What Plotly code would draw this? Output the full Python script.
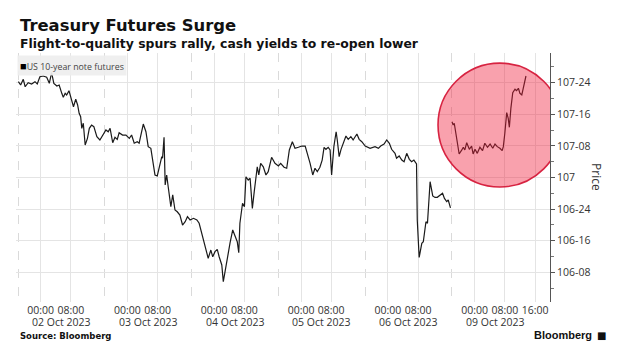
import plotly.graph_objects as go

# ---- data: trading hours since session open (Sun 18:00 ET), price in points ----
hours = [0.1, 0.7, 1.4, 1.9, 2.7, 3.6, 4.5, 5.1, 5.8, 6.7, 7.6, 8.3, 8.9, 9.5, 10.3, 10.9,
         11.6, 12.0, 12.5, 12.9, 13.5, 14.0, 14.7, 15.3, 15.8, 16.2, 16.6, 16.9, 17.3, 17.8,
         18.4, 18.9, 19.5, 20.1, 20.9, 21.7, 22.6, 23.3, 23.9, 24.4, 25.1, 25.7, 26.3, 26.8,
         27.7, 28.6, 29.5, 30.1, 30.8, 31.6, 32.1, 32.8, 33.2, 33.9, 34.5, 35.2, 35.7, 36.3,
         36.9, 37.4, 38.1, 38.3, 38.7, 39.0, 39.4, 39.8, 40.5, 41.0, 41.6, 42.2, 42.9, 43.6,
         44.3, 44.9, 45.6, 46.5, 47.4, 48.0, 48.7, 49.3, 50.0, 50.4, 51.1, 51.6, 52.2, 52.8,
         53.3, 54.0, 54.4, 55.1, 55.7, 56.2, 56.9, 57.5, 58.1, 58.5, 58.8, 59.5, 60.0, 60.4,
         61.0, 61.5, 62.1, 62.6, 63.1, 63.4, 63.8, 64.3, 65.0, 65.7, 66.3, 67.2, 68.1, 69.0,
         69.6, 70.5, 71.2, 71.9, 72.7, 73.4, 74.3, 75.2, 76.1, 76.7, 77.4, 78.1, 78.7, 79.3,
         80.0, 80.6, 81.1, 81.6, 82.2, 82.7, 83.1, 83.7, 84.3, 84.6, 85.1, 85.6, 86.2, 86.9,
         87.5, 88.2, 88.8, 89.8, 90.4, 91.1, 92.0, 92.6, 93.3, 94.6, 95.5, 96.1, 97.0, 97.7,
         98.4, 99.0, 99.9, 100.3, 101.0, 101.7, 102.3, 103.0, 103.7, 104.3, 104.9, 105.6,
         105.8, 106.3, 107.0, 107.4, 108.1, 108.5, 109.2, 109.9, 110.5, 111.1, 111.8, 112.5,
         113.0, 113.6, 114.0, 114.6,
         None,
         115.0, 115.3, 115.6, 116.1, 116.4, 116.9, 117.6, 118.0, 118.4, 118.9, 119.6, 120.2,
         120.6, 121.1, 121.7, 122.4, 123.1, 123.7, 124.4, 125.1, 125.8, 126.4, 127.0, 127.7,
         128.3, 128.6, 129.0, 129.5, 129.9, 130.2, 130.6, 131.1, 131.7, 132.1, 132.6, 133.0,
         133.5, 133.9, 134.6]

price = [107.758, 107.732, 107.777, 107.718, 107.750, 107.740, 107.758, 107.740, 107.797,
         107.803, 107.793, 107.745, 107.829, 107.745, 107.724, 107.732, 107.666, 107.634,
         107.666, 107.653, 107.687, 107.639, 107.560, 107.619, 107.574, 107.508, 107.481,
         107.389, 107.429, 107.257, 107.310, 107.389, 107.415, 107.402, 107.323, 107.297,
         107.336, 107.376, 107.362, 107.389, 107.275, 107.318, 107.302, 107.354, 107.336,
         107.336, 107.310, 107.336, 107.271, 107.283, 107.271, 107.362, 107.423, 107.362,
         107.244, 107.231, 107.138, 107.020, 107.012, 107.085, 107.165, 107.152, 107.318,
         106.941, 107.020, 106.927, 106.769, 106.862, 106.743, 106.729, 106.703, 106.624,
         106.650, 106.690, 106.664, 106.677, 106.664, 106.638, 106.559, 106.492, 106.426,
         106.361, 106.426, 106.373, 106.413, 106.432, 106.373, 106.308, 106.176, 106.308,
         106.426, 106.484, 106.585, 106.532, 106.492, 106.405, 106.638, 106.796, 106.769,
         107.006, 106.980, 106.994, 106.756, 106.888, 107.020, 107.085, 107.020, 107.112,
         107.085, 107.020, 107.046, 107.160, 107.112, 107.091, 107.112, 107.081, 107.073,
         107.218, 107.283, 107.231, 107.239, 107.249, 107.249, 107.191, 107.112, 107.020,
         107.073, 107.046, 107.081, 107.138, 107.239, 107.223, 107.239, 107.218, 107.020,
         107.244, 107.362, 107.297, 107.165, 107.223, 107.271, 107.328, 107.302, 107.323,
         107.297, 107.344, 107.302, 107.283, 107.249, 107.239, 107.231, 107.244, 107.231,
         107.249, 107.265, 107.297, 107.271, 107.223, 107.191, 107.152, 107.170, 107.138,
         107.125, 107.191, 107.144, 107.125, 107.138, 107.107, 106.664, 106.367, 106.479,
         106.492, 106.650, 106.638, 106.967, 106.854, 106.842, 106.843, 106.862, 106.875,
         106.835, 106.809, 106.822, 106.760,
         None,
         107.441, 107.415, 107.429, 107.323, 107.297, 107.186, 107.218, 107.239, 107.218,
         107.275, 107.223, 107.249, 107.186, 107.223, 107.191, 107.239, 107.212, 107.271,
         107.239, 107.265, 107.231, 107.265, 107.244, 107.231, 107.212, 107.244, 107.350,
         107.513, 107.468, 107.397, 107.547, 107.671, 107.698, 107.687, 107.706, 107.666,
         107.653, 107.706, 107.803]

# ---- axis ticks ----
session_open = [0, 23, 46, 69, 92, 115]          # dashed day separators
tick_hours = [6, 14, 29, 37, 52, 60, 75, 83, 98, 106, 121, 129, 137]
tick_text = ["00:00", "08:00", "00:00", "08:00", "00:00", "08:00", "00:00", "08:00",
             "00:00", "08:00", "00:00", "08:00", "16:00"]
day_labels = ["02 Oct 2023", "03 Oct 2023", "04 Oct 2023", "05 Oct 2023",
              "06 Oct 2023", "09 Oct 2023"]
day_label_pos = [11.4, 34.4, 57.4, 80.4, 103.4, 126.4]
y_ticks = [106.25, 106.5, 106.75, 107.0, 107.25, 107.5, 107.75]
y_text = ["106-08", "106-16", "106-24", "107", "107-08", "107-16", "107-24"]
y_minor = [106.125, 106.375, 106.625, 106.875, 107.125, 107.375, 107.625, 107.875]

# highlight circle (around Monday's rally)
circle_x = [111.3, 144.1]
circle_y = [106.925, 107.905]

GRID = "#e4e4e4"
TXT = "#333333"

fig = go.Figure()
fig.add_trace(go.Scatter(x=hours, y=price, mode="lines",
                         line=dict(color="#1a1a1a", width=1.2),
                         connectgaps=False, showlegend=False, hoverinfo="skip"))

# page body has an 8px margin, so the figure is sized/offset to fill the window
fig.update_layout(
    width=622, height=349,
    margin=dict(l=8, r=80, t=45, b=55),
    paper_bgcolor="white", plot_bgcolor="white",
    font=dict(family="Open Sans", size=10.5, color=TXT),
    showlegend=False,
    xaxis=dict(range=[-0.53, 140.97], tickmode="array", tickvals=tick_hours,
               ticktext=tick_text, showgrid=True, gridcolor=GRID, gridwidth=1,
               zeroline=False, showline=False, ticks="",
               tickfont=dict(size=10.5, color=TXT),
               minor=dict(tickmode="array", tickvals=session_open, showgrid=True,
                          gridcolor="#dadada", griddash="dash", gridwidth=1, ticks="")),
    yaxis=dict(range=[106.015, 107.985], side="right", tickmode="array",
               tickvals=y_ticks, ticktext=y_text, showgrid=True, gridcolor=GRID,
               zeroline=False, showline=True, linecolor="#555555", linewidth=1,
               ticks="outside", ticklen=4, tickcolor="#555555",
               tickfont=dict(size=10.5, color=TXT),
               minor=dict(tickmode="array", tickvals=y_minor, ticks="outside",
                          ticklen=3, tickcolor="#777777", showgrid=False)),
)

fig.add_shape(type="circle", xref="x", yref="y",
              x0=circle_x[0], x1=circle_x[1], y0=circle_y[0], y1=circle_y[1],
              layer="above", fillcolor="rgba(240,30,60,0.42)",
              line=dict(color="rgb(215,35,65)", width=1.6))

ann = []
ann.append(dict(text="<b>Treasury Futures Surge</b>", xref="paper", yref="paper",
                x=0.0037, y=1.112, xanchor="left", yanchor="middle", showarrow=False,
                font=dict(family="DejaVu Sans", size=16.4, color="#111111")))
ann.append(dict(text="<b>Flight-to-quality spurs rally, cash yields to re-open lower</b>",
                xref="paper", yref="paper", x=0.0037, y=1.040, xanchor="left",
                yanchor="middle", showarrow=False,
                font=dict(family="DejaVu Sans", size=12.4, color="#111111")))
ann.append(dict(text="<span style='font-size:11px;color:#000'>■</span>US 10-year note futures",
                xref="paper", yref="paper", x=0.002, y=0.992, xanchor="left",
                yanchor="top", showarrow=False, bgcolor="rgba(238,238,238,0.92)",
                borderpad=2, font=dict(family="Open Sans", size=8.8, color="#444444")))
for pos, lab in zip(day_label_pos, day_labels):
    ann.append(dict(text=lab, xref="x", yref="paper", x=pos, y=-0.080,
                    xanchor="center", yanchor="middle", showarrow=False,
                    font=dict(size=10.5, color=TXT)))
ann.append(dict(text="Price", xref="paper", yref="paper", x=1.088, y=0.502,
                xanchor="center", yanchor="middle", textangle=90, showarrow=False,
                font=dict(size=12, color=TXT)))
ann.append(dict(text="<b>Source: Bloomberg</b>", xref="paper", yref="paper",
                x=0.0037, y=-0.137, xanchor="left", yanchor="middle", showarrow=False,
                font=dict(family="DejaVu Sans", size=8.5, color="#111111")))
ann.append(dict(text="<b>Bloomberg</b>", xref="paper", yref="paper",
                x=0.966, y=-0.133, xanchor="left", yanchor="middle", showarrow=False,
                font=dict(family="Liberation Sans", size=11, color="#111111")))
ann.append(dict(text="■", xref="paper", yref="paper",
                x=1.084, y=-0.133, xanchor="left", yanchor="middle", showarrow=False,
                font=dict(family="DejaVu Sans", size=10, color="#111111")))
fig.update_layout(annotations=ann)

fig.write_html("out.html")
